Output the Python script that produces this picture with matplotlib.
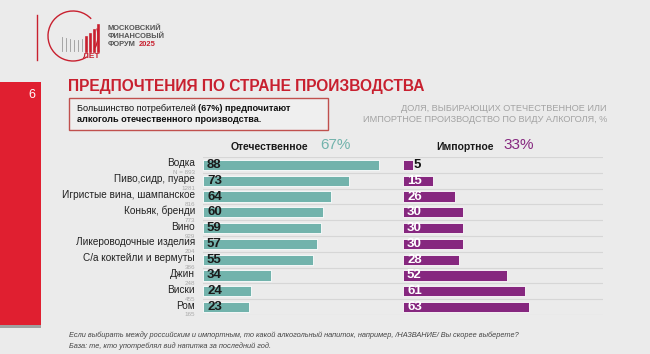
import numpy as np
import matplotlib.pyplot as plt
from matplotlib.patches import Rectangle, Arc

plt.rcParams['font.family'] = ['Liberation Sans', 'DejaVu Sans']

# data
categories = ['Водка', 'Пиво,сидр, пуаре', 'Игристые вина, шампанское', 'Коньяк, бренди',
              'Вино', 'Ликероводочные изделия', 'С/а коктейли и вермуты', 'Джин', 'Виски', 'Ром']
n_base = ['N = 893', '1281', '816', '773', '929', '204', '386', '248', '455', '165']
domestic = [88, 73, 64, 60, 59, 57, 55, 34, 24, 23]
imported = [5, 15, 26, 30, 30, 30, 28, 52, 61, 63]
domestic_total = '67%'
imported_total = '33%'

BG = '#ebebeb'
RED = '#c8202f'
TEAL = '#72b3ac'
PURPLE = '#86277f'
IMP_OFFSET = 100  # import bars start here (data units)

W, H = 650, 354
fig = plt.figure(figsize=(6.5, 3.54), dpi=100, facecolor=BG)

def fx(px):
    return px / W

def fy(py):
    return 1 - py / H

# left red band with slide number
fig.patches.append(Rectangle((0, fy(328)), fx(41), fy(82) - fy(328), transform=fig.transFigure,
                             facecolor='#a0a0a0', edgecolor='none'))
fig.patches.append(Rectangle((0, fy(325)), fx(41), fy(82) - fy(325), transform=fig.transFigure,
                             facecolor='#e01f30', edgecolor='none'))
fig.text(fx(32), fy(95), '6', color='white', fontsize=9, ha='center', va='center')

# logo
fig.add_artist(plt.Line2D([fx(37), fx(37)], [fy(15), fy(60)], transform=fig.transFigure,
                          color=RED, lw=1.0))
fig.patches.append(Arc((fx(73), fy(36)), fx(50), (fy(11) - fy(61)), theta1=-45, theta2=30,
                       transform=fig.transFigure, color=RED, lw=1.0))
fig.patches.append(Arc((fx(73), fy(36)), fx(50), (fy(11) - fy(61)), theta1=60, theta2=290,
                       transform=fig.transFigure, color=RED, lw=1.0))
logo_h = [14, 13, 12, 11, 11, 12, 14, 17, 21, 26]
for k, h in enumerate(logo_h):
    c = '#9a9a9a' if k < 6 else RED
    lw = 0.6 if k < 6 else 1.9
    xp = 62 + k * 4
    fig.add_artist(plt.Line2D([fx(xp), fx(xp)], [fy(51), fy(51 - h)], transform=fig.transFigure,
                              color=c, lw=lw))
fig.text(fx(91), fy(57), 'ЛЕТ', color=RED, fontsize=6, ha='center', va='center', fontweight='bold')
fig.text(fx(108), fy(28), 'МОСКОВСКИЙ', color='#555555', fontsize=5.4, va='center', fontweight='bold')
fig.text(fx(108), fy(36), 'ФИНАНСОВЫЙ', color='#555555', fontsize=5.4, va='center', fontweight='bold')
fig.text(fx(108), fy(44), 'ФОРУМ', color='#555555', fontsize=5.4, va='center', fontweight='bold')
fig.text(fx(139), fy(44), '2025', color=RED, fontsize=5.4, va='center', fontweight='bold')

# title
fig.text(fx(68), fy(86), 'ПРЕДПОЧТЕНИЯ ПО СТРАНЕ ПРОИЗВОДСТВА', color=RED, fontsize=11.2,
         fontweight='bold', va='center')

# callout box
fig.patches.append(Rectangle((fx(69), fy(130)), fx(259), fy(98) - fy(130), transform=fig.transFigure,
                             facecolor='#efefef', edgecolor='#c0504d', lw=1.0))
renderer = fig.canvas.get_renderer()
t1 = fig.text(fx(77), fy(108), 'Большинство потребителей ', fontsize=6.6, va='center', color='#111111')
bb = t1.get_window_extent(renderer)
fig.text(bb.x1 / W, fy(108), '(67%) предпочитают', fontsize=6.6, va='center',
         color='#111111', fontweight='bold')
fig.text(fx(77), fy(120), 'алкоголь отечественного производства.', fontsize=6.6, va='center',
         color='#111111', fontweight='bold')

# subtitle right
fig.text(fx(607), fy(108), 'ДОЛЯ, ВЫБИРАЮЩИХ ОТЕЧЕСТВЕННОЕ ИЛИ', fontsize=6.6, ha='right',
         va='center', color='#a3a3a3')
fig.text(fx(607), fy(120), 'ИМПОРТНОЕ ПРОИЗВОДСТВО ПО ВИДУ АЛКОГОЛЯ, %', fontsize=6.6, ha='right',
         va='center', color='#a3a3a3')

# group headers
fig.text(fx(308), fy(147), 'Отечественное', fontsize=7.5, ha='right', va='center',
         fontweight='bold', color='#1a1a1a')
fig.text(fx(320), fy(145), domestic_total, fontsize=11, ha='left', va='center', color=TEAL)
fig.text(fx(494), fy(147), 'Импортное', fontsize=7.5, ha='right', va='center',
         fontweight='bold', color='#1a1a1a')
fig.text(fx(503), fy(145), imported_total, fontsize=11, ha='left', va='center', color=PURPLE)

# bars
ax = fig.add_axes([fx(203), fy(315), fx(400), fy(157) - fy(315)])
ax.set_facecolor('none')
y = np.arange(len(categories))
ax.barh(y, domestic, height=0.64, color=TEAL, edgecolor='white', lw=0.6)
ax.barh(y, imported, left=IMP_OFFSET, height=0.64, color=PURPLE, edgecolor='white', lw=0.6)
for b in np.arange(len(categories) + 1) - 0.5:
    ax.axhline(b, color='#d6d6d6', lw=0.8, zorder=0)
ax.set_xlim(0, 200)
ax.set_ylim(len(categories) - 0.5, -0.5)
ax.axis('off')

for i, (lab, n, d, m) in enumerate(zip(categories, n_base, domestic, imported)):
    ax.text(-4, i - 0.1, lab, ha='right', va='center', fontsize=7.2, color='#222222', clip_on=False)
    ax.text(-4, i + 0.5, n, ha='right', va='center', fontsize=4.5, color='#aaaaaa', clip_on=False)
    ax.text(2, i, str(d), ha='left', va='center', fontsize=9.5, fontweight='bold', color='#1a1a1a')
    if m < 8:
        ax.text(IMP_OFFSET + m + 0.3, i, str(m), ha='left', va='center', fontsize=9.5,
                fontweight='bold', color='#111111')
    else:
        ax.text(IMP_OFFSET + 2, i, str(m), ha='left', va='center', fontsize=9.5,
                fontweight='bold', color='white')

# footnotes
fig.text(fx(69), fy(335), 'Если выбирать между российским и импортным, то какой алкогольный напиток, '
         'например, /НАЗВАНИЕ/ Вы скорее выберете?', fontsize=5.3, style='italic',
         color='#444444', va='center')
fig.text(fx(69), fy(346), 'База: те, кто употреблял вид напитка за последний год.', fontsize=5.3,
         style='italic', color='#444444', va='center')

fig.savefig('out.png', dpi=100, facecolor=BG)
